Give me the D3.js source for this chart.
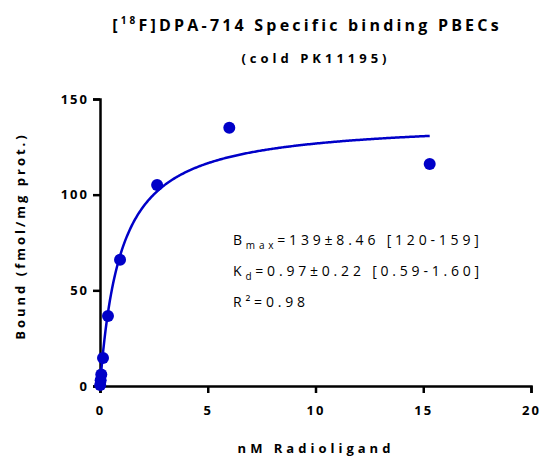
<!DOCTYPE html>
<html><head><meta charset="utf-8">
<script src="https://cdn.jsdelivr.net/npm/d3@7"></script>
<style>body{margin:0;background:#fff}</style>
</head><body>
<svg id="c" width="541" height="462"></svg>
<script>
const xValues = [0.01, 0.03, 0.06, 0.14, 0.37, 0.93, 2.65, 6.0, 15.3];
const yValues = [0.5, 3, 6, 14.6, 36.6, 66, 105, 135, 116];
const xTicks = [0, 5, 10, 15, 20];
const yTicks = [0, 50, 100, 150];
const bmax = 139, kd = 0.97, curveMax = 15.3;

const svg = d3.select("#c");
const x = d3.scaleLinear().domain([0, 20]).range([100, 531]);
const y = d3.scaleLinear().domain([0, 150]).range([386, 99]);
const blue = "#0000c8";
const font = "'Open Sans', sans-serif";

// axes
const xa = svg.append("g").attr("transform", "translate(0,386)")
  .call(d3.axisBottom(x).tickValues(xTicks).tickSize(7).tickPadding(13));
const ya = svg.append("g").attr("transform", "translate(100,0)")
  .call(d3.axisLeft(y).tickValues(yTicks).tickSize(7).tickPadding(4));
[xa, ya].forEach(a => {
  a.select(".domain").attr("stroke", "#000").attr("stroke-width", 2.5);
  a.selectAll(".tick line").attr("stroke", "#000").attr("stroke-width", 2.5);
  a.selectAll(".tick text").attr("fill", "#000").attr("font-family", font)
    .attr("font-weight", "bold").attr("font-size", 13).style("letter-spacing", "2px");
});

// curve
const cx = d3.range(0, 301).map(i => i / 300 * curveMax);
svg.append("path")
  .datum(cx)
  .attr("fill", "none").attr("stroke", blue).attr("stroke-width", 2.5)
  .attr("d", d3.line().x(d => x(d)).y(d => y(bmax * d / (kd + d))));

// points
svg.append("g").selectAll("circle").data(xValues).join("circle")
  .attr("cx", (d) => x(d)).attr("cy", (d, i) => y(yValues[i])).attr("r", 6)
  .attr("fill", blue);

// titles
const t = svg.append("text").attr("x", 307).attr("y", 31).attr("text-anchor", "middle")
  .attr("font-family", font).attr("font-weight", "bold").attr("font-size", 16)
  .style("letter-spacing", "3.2px");
t.append("tspan").text("[");
t.append("tspan").attr("font-size", 10).attr("dy", -7).text("18");
t.append("tspan").attr("dy", 7).text("F]DPA-714 Specific binding PBECs");
svg.append("text").attr("x", 316).attr("y", 63).attr("text-anchor", "middle")
  .attr("font-family", font).attr("font-weight", "bold").attr("font-size", 13)
  .style("letter-spacing", "4px").text("(cold PK11195)");

svg.append("text").attr("x", 316).attr("y", 453).attr("text-anchor", "middle")
  .attr("font-family", font).attr("font-weight", "bold").attr("font-size", 13)
  .style("letter-spacing", "4px").text("nM Radioligand");
svg.append("text").attr("transform", "translate(25,236) rotate(-90)").attr("text-anchor", "middle")
  .attr("font-family", font).attr("font-weight", "bold").attr("font-size", 13)
  .style("letter-spacing", "3px").text("Bound (fmol/mg prot.)");

// annotation
const ann = svg.append("g").attr("font-family", font).attr("font-size", 14).style("letter-spacing", "3.8px");
const a1 = ann.append("text").attr("x", 233).attr("y", 245);
a1.append("tspan").text("B");
a1.append("tspan").attr("font-size", 10).attr("dy", 4).text("max");
a1.append("tspan").attr("dy", -4).text("=139±8.46 [120-159]");
const a2 = ann.append("text").attr("x", 233).attr("y", 276);
a2.append("tspan").text("K");
a2.append("tspan").attr("font-size", 10).attr("dy", 4).text("d");
a2.append("tspan").attr("dy", -4).text("=0.97±0.22 [0.59-1.60]");
ann.append("text").attr("x", 233).attr("y", 307).text("R²=0.98");
</script>
</body></html>
